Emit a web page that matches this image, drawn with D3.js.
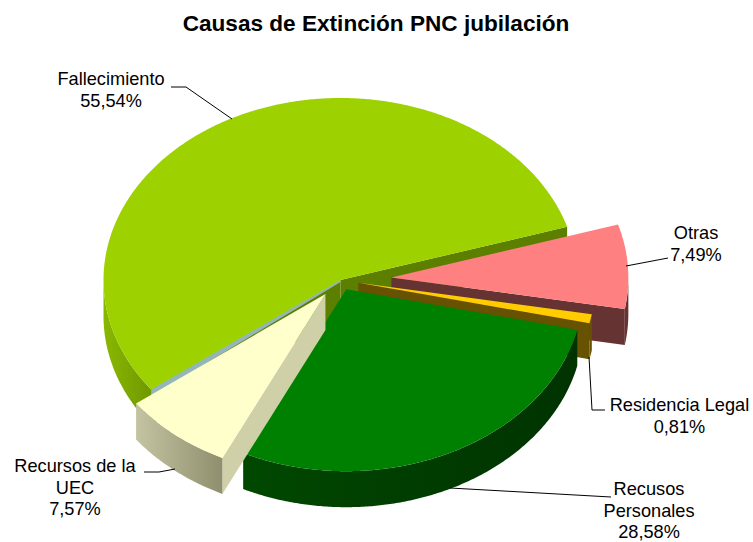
<!DOCTYPE html>
<html><head><meta charset="utf-8">
<script src="https://cdn.jsdelivr.net/npm/d3@7"></script>
<style>html,body{margin:0;padding:0;background:#fff}svg{display:block}text{font-family:"Liberation Sans",Arial,sans-serif;fill:#000}</style>
</head><body><svg id="c" width="753" height="542"></svg>
<script>
const title = "Causas de Extinción PNC jubilación";
const categories = ["Otras","Residencia Legal","Recusos Personales","Recursos de la UEC","Fallecimiento"];
const values = [7.49,0.81,28.58,7.57,55.54];

const labelRows = [["Otras"],["Residencia Legal"],["Recusos","Personales"],["Recursos de la","UEC"],["Fallecimiento"]];
const topColors = ["#ff8080","#ffcc00","#008000","#ffffcc","#9dd100"];
const cutColors = ["#663333","#665200","#004000","#d0d0a8","#5d7f00"];
const rimStops = [["#663333","#663333"],["#665200","#665200"],["#004800","#003300"],["#c4c4a2","#8f8f6e"],["#8ab800","#6f9900"]];
const explode = [0.215,0.077,0.056,0.1,0];
const labelPos = [[696,239],[679.5,411],[649,495],[75,472],[111,85]];
const leaders = [
  [[626,266],[668,258]],
  [[589,357],[592,410],[605,410]],
  [[450,488],[611,497]],
  [[175,469],[159,472],[144,472]],
  [[232,119],[186,87],[171,87]]
];

const svg = d3.select("#c");
const cx = 340.5, cy = 280, rx = 237, ry = 182, depth = 36;
const rad = Math.PI/180;
const fmt = d3.formatLocale({decimal:",",thousands:".",grouping:[3],currency:["","€"]}).format(".2f");
const arcs = d3.pie().sort(null).startAngle(73*rad).endAngle(433*rad)(values);
const px = (o,a) => o[0] + rx*Math.sin(a);
const py = (o,a) => o[1] - ry*Math.cos(a);
const line = d3.line();
const defs = svg.append("defs");

svg.append("text").attr("x",376).attr("y",31).attr("text-anchor","middle")
   .attr("font-size",22.6).attr("font-weight","bold").text(title);

function sweep(a0,a1){ const n=Math.max(2,Math.ceil((a1-a0)/(0.5*rad))); return d3.range(n+1).map(i=>a0+(a1-a0)*i/n); }

// painter's order: the largest, un-exploded slice is drawn first
[4,0,1,2,3].forEach(i=>{
  const d = arcs[i], a0=d.startAngle, a1=d.endAngle, mid=(a0+a1)/2;
  const o = [cx+explode[i]*rx*Math.sin(mid), cy-explode[i]*ry*Math.cos(mid)];
  const g = svg.append("g").attr("class","slice");
  // flat cut walls that face the viewer
  [[a0,a0-Math.PI/2],[a1,a1+Math.PI/2]].forEach(([a,n])=>{
    if(Math.cos(n)>=0) return;
    const r=[px(o,a),py(o,a)];
    g.append("path").attr("fill",cutColors[i])
      .attr("d",line([o,r,[r[0],r[1]+depth],[o[0],o[1]+depth]])+"Z");
  });
  // outer rim, only the visible front half (90..270 degrees, modulo a full turn)
  [[90,270],[450,630]].forEach(([lo,hi])=>{
    const s=Math.max(a0,lo*rad), e=Math.min(a1,hi*rad);
    if(e<=s) return;
    const pts=sweep(s,e).map(a=>[px(o,a),py(o,a)]);
    const id="rim"+i;
    const gr=defs.append("linearGradient").attr("id",id).attr("gradientUnits","userSpaceOnUse")
      .attr("x1",d3.min(pts,p=>p[0])).attr("x2",d3.max(pts,p=>p[0])).attr("y1",0).attr("y2",0);
    gr.append("stop").attr("offset",0).attr("stop-color",rimStops[i][0]);
    gr.append("stop").attr("offset",1).attr("stop-color",rimStops[i][1]);
    const low=pts.slice().reverse().map(p=>[p[0],p[1]+depth]);
    g.append("path").attr("fill",`url(#${id})`).attr("d",line(pts.concat(low))+"Z");
  });
  // thin blue-grey band on the cut of the big slice
  if(i===4){
    const r=[px(o,a0),py(o,a0)];
    g.append("path").attr("fill","#93b6b8").attr("d",line([o,r,[r[0],r[1]+7],[o[0],o[1]+2]])+"Z");
  }
  // top face
  const top=[o].concat(sweep(a0,a1).map(a=>[px(o,a),py(o,a)]));
  g.append("path").attr("fill",topColors[i]).attr("d",line(top)+"Z");
});

// leader lines and labels
leaders.forEach(l=>svg.append("path").attr("fill","none").attr("stroke","#000").attr("stroke-width",1).attr("d",line(l)));
labelRows.forEach((rows,i)=>{
  const t=svg.append("text").attr("text-anchor","middle").attr("font-size",18.2);
  rows.concat([fmt(values[i])+"%"]).forEach((s,k)=>
    t.append("tspan").attr("x",labelPos[i][0]).attr("y",labelPos[i][1]+k*21.5).text(s));
});
</script></body></html>
